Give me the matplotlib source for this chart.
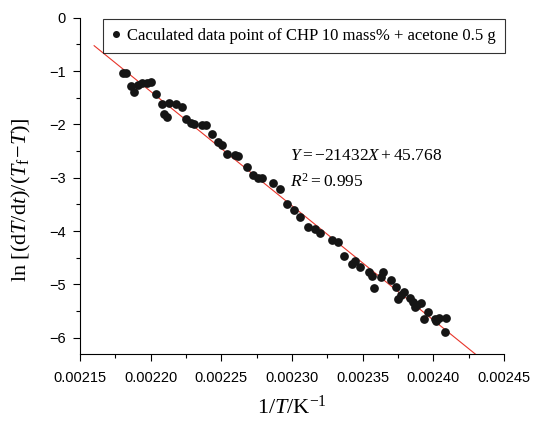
import matplotlib
matplotlib.use("Agg")
import matplotlib.pyplot as plt
from matplotlib.ticker import MultipleLocator, FormatStrFormatter
import numpy as np

inv_T = [0.0021802, 0.0021825, 0.0021859, 0.0021884, 0.0021910, 0.0021937, 0.0021976, 0.0022000,
         0.0022038, 0.0022078, 0.0022092, 0.0022118, 0.0022132, 0.0022179, 0.0022222, 0.0022252,
         0.0022283, 0.0022310, 0.0022361, 0.0022388, 0.0022434, 0.0022479, 0.0022508, 0.0022538,
         0.0022597, 0.0022618, 0.0022679, 0.0022724, 0.0022758, 0.0022788, 0.0022866, 0.0022915,
         0.0022965, 0.0023012, 0.0023057, 0.0023115, 0.0023166, 0.0023195, 0.0023283, 0.0023329,
         0.0023366, 0.0023428, 0.0023447, 0.0023481, 0.0023547, 0.0023564, 0.0023580, 0.0023630,
         0.0023645, 0.0023698, 0.0023734, 0.0023752, 0.0023768, 0.0023792, 0.0023835, 0.0023858,
         0.0023867, 0.0023884, 0.0023916, 0.0023934, 0.0023964, 0.0024012, 0.0024022, 0.0024037,
         0.0024088, 0.0024085]
ln_rate = [-1.03, -1.04, -1.28, -1.39, -1.27, -1.22, -1.23, -1.21,
           -1.43, -1.61, -1.81, -1.86, -1.59, -1.62, -1.68, -1.89,
           -1.97, -2.00, -2.02, -2.02, -2.18, -2.33, -2.39, -2.56,
           -2.57, -2.59, -2.79, -2.94, -3.01, -3.01, -3.09, -3.22,
           -3.50, -3.61, -3.73, -3.92, -3.96, -4.04, -4.16, -4.20,
           -4.46, -4.62, -4.56, -4.68, -4.77, -4.84, -5.07, -4.86,
           -4.76, -4.92, -5.04, -5.27, -5.20, -5.14, -5.25, -5.33,
           -5.42, -5.39, -5.35, -5.64, -5.51, -5.64, -5.69, -5.63,
           -5.63, -5.89]

slope = -21432
intercept = 45.768
fit_x = [0.00216, 0.00243]

plt.rcParams['mathtext.fontset'] = 'custom'
plt.rcParams['mathtext.rm'] = 'Liberation Serif'
plt.rcParams['mathtext.it'] = 'Liberation Serif:italic'
plt.rcParams['mathtext.bf'] = 'Liberation Serif:bold'

fig = plt.figure(figsize=(5.34, 4.21), dpi=100)
ax = fig.add_axes([80/534, 1-354.3/421, 424/534, (354.3-17.7)/421])

fx = np.array(fit_x)
ax.plot(fx, slope*fx + intercept, color='#e8352a', lw=0.8, zorder=2)
ax.plot(inv_T, ln_rate, 'o', color='#151515', ms=6.3, mew=0, zorder=3,
        label='Caculated data point of CHP 10 mass% + acetone 0.5 g')

ax.set_xlim(0.00215, 0.00245)
ax.set_ylim(-6.31, 0)
ax.spines['top'].set_visible(False)
ax.spines['right'].set_visible(False)
ax.xaxis.set_major_locator(MultipleLocator(0.00005))
ax.xaxis.set_minor_locator(MultipleLocator(0.000025))
ax.xaxis.set_major_formatter(FormatStrFormatter('%.5f'))
ax.yaxis.set_major_locator(MultipleLocator(1))
ax.yaxis.set_minor_locator(MultipleLocator(0.5))
ax.tick_params(which='both', direction='out', labelsize=10.5, width=0.8)
ax.tick_params(which='major', length=5)
ax.tick_params(which='minor', length=3)
ax.tick_params(axis='x', which='major', pad=7)
ax.tick_params(axis='y', which='major', pad=5)
for lab in ax.get_xticklabels() + ax.get_yticklabels():
    lab.set_fontfamily('Liberation Sans')

ax.set_xlabel(r'$1/T/\mathrm{K}^{-1}$', fontsize=16)
ax.set_ylabel(r'$\mathrm{ln}\ [(\mathrm{d}T/\mathrm{d}t)/(T_{\mathrm{f}}\!-\!T)]$', fontsize=16)
ax.xaxis.set_label_coords(0.5, -0.12)
ax.yaxis.set_label_coords(-0.11, 0.46)

ax.text(0.495, 0.578, r'$Y = -21432X + 45.768$', transform=ax.transAxes, fontsize=12.5)
ax.text(0.495, 0.498, r'$R^2 = 0.995$', transform=ax.transAxes, fontsize=12.5)

leg = ax.legend(loc='upper left', bbox_to_anchor=(103/534, 1-19/421),
                bbox_transform=fig.transFigure, borderaxespad=0, frameon=True,
                fancybox=False, edgecolor='black', handlelength=0.5, handletextpad=0.4,
                markerscale=0.8, borderpad=0.55,
                prop={'family': 'Liberation Serif', 'size': 12})
leg.get_frame().set_linewidth(0.8)

fig.savefig('out.png', dpi=100)
